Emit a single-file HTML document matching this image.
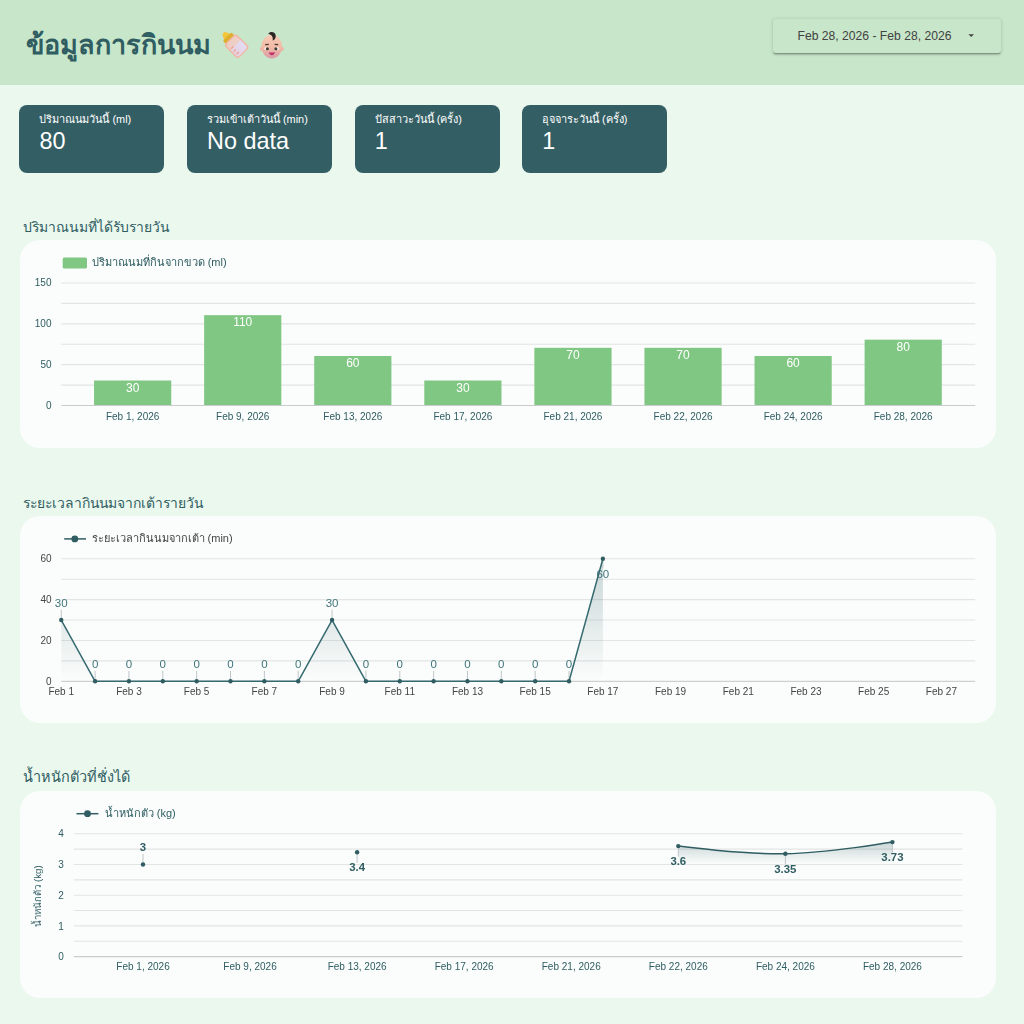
<!DOCTYPE html>
<html lang="th">
<head>
<meta charset="utf-8">
<title>ข้อมูลการกินนม</title>
<style>
  html, body { margin: 0; padding: 0; }
  body {
    width: 1024px; height: 1024px; overflow: hidden; position: relative;
    background: #ebf8ee;
    font-family: "Liberation Sans", sans-serif;
    color: #2f5d62;
  }
  #root { position: absolute; left: 0; top: 0; width: 1024px; height: 1024px; }
  .abs { position: absolute; white-space: nowrap; }
  #header { left: 0; top: 0; width: 1024px; height: 85px; background: #c8e6c9; }
  #title { left: 25.8px; top: 25.4px; font-size: 27px; font-weight: bold; line-height: 40px; color: #2f5d62; }
  #datebtn {
    left: 773px; top: 19px; width: 228px; height: 33.5px; border-radius: 3px;
    background: #c8e6c9;
    box-shadow: 0 2.5px .9px -1.7px rgba(0,0,0,.2), 0 1.7px 1.7px 0 rgba(0,0,0,.14), 0 .9px 4.3px 0 rgba(0,0,0,.12);
  }
  #datetxt { left: 797.5px; top: 28.8px; font-size: 12.15px; line-height: 15px; color: #424242; }
  .card { top: 105.3px; width: 145.1px; height: 67.3px; border-radius: 8px; background: #335e64; color: #fff; }
  .card .lab { left: 20.1px; top: 6.2px; font-size: 10.95px; line-height: 16px; }
  .card .val { left: 20.3px; top: 21.4px; font-size: 23.4px; line-height: 28px; }
  .h2 { left: 23.2px; font-size: 13.95px; line-height: 22px; color: #2f5d62; }
  .panel { left: 19.5px; width: 976.5px; height: 207px; border-radius: 20px; background: #fbfdfc; }
  svg text { font-family: "Liberation Sans", sans-serif; }
</style>
</head>
<body>
<div id="root">
  <div id="header" class="abs"></div>
  <div id="title" class="abs">ข้อมูลการกินนม</div>
  <svg class="abs" style="left:216px;top:24px" width="80" height="40" viewBox="216 24 80 40">
    <defs>
      <linearGradient id="skin" x1="0" y1="0" x2="0" y2="1">
        <stop offset="0" stop-color="#f8cdb6"/><stop offset="0.55" stop-color="#f0b9a6"/><stop offset="1" stop-color="#d899a6"/>
      </linearGradient>
      <linearGradient id="milk" x1="0" y1="0" x2="1" y2="0">
        <stop offset="0" stop-color="#e6cfe0"/><stop offset="1" stop-color="#e2ddf3"/>
      </linearGradient>
    </defs>
    <!-- baby bottle -->
    <g transform="translate(236.7 46.2) rotate(-45) scale(1.08)">
      <path d="M-3.6 -12.2 C-3.6 -14.6 -2.4 -15.2 -2 -16.4 C-1.8 -17.8 1.8 -17.8 2 -16.4 C2.4 -15.2 3.6 -14.6 3.6 -12.2 Z" fill="#f2c53d"/>
      <rect x="-5.6" y="-12.6" width="11.2" height="3.9" rx="1.2" fill="#dfae2f"/>
      <rect x="-7.8" y="-9.2" width="15.6" height="18.4" rx="3.2" fill="#f1b6a6"/>
      <rect x="-6.4" y="-7.9" width="12.8" height="15.8" rx="2.2" fill="#efcfc3"/>
      <path d="M-6.4 -1.6 L6.4 -1.6 L6.4 5.7 Q6.4 7.9 4.2 7.9 L-4.2 7.9 Q-6.4 7.9 -6.4 5.7 Z" fill="url(#milk)"/>
      <rect x="-5.4" y="-2.6" width="3.2" height="1.1" rx=".5" fill="#ee9f86"/>
      <rect x="-5.4" y="1.1" width="2.6" height="1.1" rx=".5" fill="#ee9f86"/>
      <rect x="-5.4" y="4.6" width="3.2" height="1.1" rx=".5" fill="#ee9f86"/>
    </g>
    <!-- baby face -->
    <circle cx="262.2" cy="48.9" r="2.2" fill="#efb5a2"/>
    <circle cx="281.5" cy="48.9" r="2.2" fill="#efb5a2"/>
    <ellipse cx="271.8" cy="46.6" rx="10.3" ry="11.9" fill="url(#skin)"/>
    <path d="M268.2 33.8 C270 31.2 274.2 31.4 275.4 34.4 C276.4 37 275 39.6 272.7 40.6 C273 38.2 272.6 36 270.9 35 C270 34.5 269 34.3 268.2 33.8 Z" fill="#2a2624"/>
    <ellipse cx="266.2" cy="48.4" rx="2.1" ry="1.5" fill="#f6ebe6"/>
    <ellipse cx="277.2" cy="48.4" rx="2.1" ry="1.5" fill="#f6ebe6"/>
    <circle cx="267.4" cy="48.8" r="1.5" fill="#3b3a33"/>
    <circle cx="275.9" cy="48.8" r="1.5" fill="#3b3a33"/>
    <path d="M265.6 44.6 L268.4 44.4" stroke="#4a3b33" stroke-width="1.1" stroke-linecap="round" fill="none"/>
    <path d="M275 44.4 L277.8 44.6" stroke="#4a3b33" stroke-width="1.1" stroke-linecap="round" fill="none"/>
    <path d="M268.9 52 Q271.9 53.2 274.9 52 Q274.2 55.2 271.9 55.2 Q269.6 55.2 268.9 52 Z" fill="#c22f69"/>
  </svg>

  <div id="datebtn" class="abs"></div>
  <div id="datetxt" class="abs">Feb 28, 2026 - Feb 28, 2026</div>
  <svg class="abs" style="left:967px;top:32.5px" width="9" height="6" viewBox="0 0 9 6"><path d="M1.4 1.2 L7 1.2 L4.2 4 Z" fill="#424242"/></svg>

  <div class="abs card" style="left:19.3px"><div class="abs lab">ปริมาณนมวันนี้ (ml)</div><div class="abs val">80</div></div>
  <div class="abs card" style="left:186.8px"><div class="abs lab">รวมเข้าเต้าวันนี้ (min)</div><div class="abs val">No data</div></div>
  <div class="abs card" style="left:354.5px"><div class="abs lab">ปัสสาวะวันนี้ (ครั้ง)</div><div class="abs val">1</div></div>
  <div class="abs card" style="left:521.9px"><div class="abs lab">อุจจาระวันนี้ (ครั้ง)</div><div class="abs val">1</div></div>

  <div class="abs h2" style="top:215.7px">ปริมาณนมที่ได้รับรายวัน</div>
  <div class="abs panel" style="top:240.3px;height:207.3px"></div>

  <div class="abs h2" style="top:491.8px;font-size:13.9px">ระยะเวลากินนมจากเต้ารายวัน</div>
  <div class="abs panel" style="top:516.1px;height:206.8px"></div>

  <div class="abs h2" style="top:765.8px;font-size:14.45px">น้ำหนักตัวที่ชั่งได้</div>
  <div class="abs panel" style="top:791.2px;height:206.6px"></div>

  <svg class="abs" style="left:0;top:0;will-change:transform" width="1024" height="1024" viewBox="0 0 1024 1024">
<g id="chart-bar">
<line x1="61.25" x2="975.25" y1="283" y2="283" stroke="#e3e5e5" stroke-width="1.1"/>
<line x1="61.25" x2="975.25" y1="303.42" y2="303.42" stroke="#e3e5e5" stroke-width="1.1"/>
<line x1="61.25" x2="975.25" y1="323.83" y2="323.83" stroke="#e3e5e5" stroke-width="1.1"/>
<line x1="61.25" x2="975.25" y1="344.25" y2="344.25" stroke="#e3e5e5" stroke-width="1.1"/>
<line x1="61.25" x2="975.25" y1="364.67" y2="364.67" stroke="#e3e5e5" stroke-width="1.1"/>
<line x1="61.25" x2="975.25" y1="385.08" y2="385.08" stroke="#e3e5e5" stroke-width="1.1"/>
<text x="51.5" y="286.2" text-anchor="end" font-size="10" fill="#2f5d62">150</text>
<text x="51.5" y="327.03" text-anchor="end" font-size="10" fill="#2f5d62">100</text>
<text x="51.5" y="367.87" text-anchor="end" font-size="10" fill="#2f5d62">50</text>
<text x="51.5" y="408.7" text-anchor="end" font-size="10" fill="#2f5d62">0</text>
<rect x="94.05" y="380.5" width="77.2" height="25" fill="#81c784"/>
<text x="132.65" y="391.6" text-anchor="middle" font-size="12" fill="#ffffff">30</text>
<text x="132.65" y="419.6" text-anchor="middle" font-size="10" fill="#2f5d62">Feb 1, 2026</text>
<rect x="204.13" y="315.17" width="77.2" height="90.33" fill="#81c784"/>
<text x="242.73" y="326.27" text-anchor="middle" font-size="12" fill="#ffffff">110</text>
<text x="242.73" y="419.6" text-anchor="middle" font-size="10" fill="#2f5d62">Feb 9, 2026</text>
<rect x="314.21" y="356" width="77.2" height="49.5" fill="#81c784"/>
<text x="352.81" y="367.1" text-anchor="middle" font-size="12" fill="#ffffff">60</text>
<text x="352.81" y="419.6" text-anchor="middle" font-size="10" fill="#2f5d62">Feb 13, 2026</text>
<rect x="424.29" y="380.5" width="77.2" height="25" fill="#81c784"/>
<text x="462.89" y="391.6" text-anchor="middle" font-size="12" fill="#ffffff">30</text>
<text x="462.89" y="419.6" text-anchor="middle" font-size="10" fill="#2f5d62">Feb 17, 2026</text>
<rect x="534.37" y="347.83" width="77.2" height="57.67" fill="#81c784"/>
<text x="572.97" y="358.93" text-anchor="middle" font-size="12" fill="#ffffff">70</text>
<text x="572.97" y="419.6" text-anchor="middle" font-size="10" fill="#2f5d62">Feb 21, 2026</text>
<rect x="644.45" y="347.83" width="77.2" height="57.67" fill="#81c784"/>
<text x="683.05" y="358.93" text-anchor="middle" font-size="12" fill="#ffffff">70</text>
<text x="683.05" y="419.6" text-anchor="middle" font-size="10" fill="#2f5d62">Feb 22, 2026</text>
<rect x="754.53" y="356" width="77.2" height="49.5" fill="#81c784"/>
<text x="793.13" y="367.1" text-anchor="middle" font-size="12" fill="#ffffff">60</text>
<text x="793.13" y="419.6" text-anchor="middle" font-size="10" fill="#2f5d62">Feb 24, 2026</text>
<rect x="864.61" y="339.67" width="77.2" height="65.83" fill="#81c784"/>
<text x="903.21" y="350.77" text-anchor="middle" font-size="12" fill="#ffffff">80</text>
<text x="903.21" y="419.6" text-anchor="middle" font-size="10" fill="#2f5d62">Feb 28, 2026</text>
<line x1="61.25" x2="975.25" y1="405.5" y2="405.5" stroke="#c9cccc" stroke-width="1.2"/>
<rect x="62.7" y="257.4" width="24.3" height="11.2" rx="1.5" fill="#81c784"/>
<text x="91.6" y="266.1" font-size="11" fill="#2f5d62">ปริมาณนมที่กินจากขวด (ml)</text>
</g>
<g id="chart-line">
<defs><linearGradient id="g2" gradientUnits="userSpaceOnUse" x1="0" y1="558.8" x2="0" y2="681.3"><stop offset="0" stop-color="#2f5d62" stop-opacity="0.25"/><stop offset="1" stop-color="#2f5d62" stop-opacity="0"/></linearGradient></defs>
<line x1="61.25" x2="975.25" y1="558.8" y2="558.8" stroke="#e3e5e5" stroke-width="1.1"/>
<line x1="61.25" x2="975.25" y1="579.22" y2="579.22" stroke="#e3e5e5" stroke-width="1.1"/>
<line x1="61.25" x2="975.25" y1="599.63" y2="599.63" stroke="#e3e5e5" stroke-width="1.1"/>
<line x1="61.25" x2="975.25" y1="620.05" y2="620.05" stroke="#e3e5e5" stroke-width="1.1"/>
<line x1="61.25" x2="975.25" y1="640.47" y2="640.47" stroke="#e3e5e5" stroke-width="1.1"/>
<line x1="61.25" x2="975.25" y1="660.88" y2="660.88" stroke="#e3e5e5" stroke-width="1.1"/>
<line x1="61.25" x2="975.25" y1="681.3" y2="681.3" stroke="#cdd0d0" stroke-width="1.2"/>
<text x="51.5" y="562.1" text-anchor="end" font-size="10" fill="#444444">60</text>
<text x="51.5" y="602.93" text-anchor="end" font-size="10" fill="#444444">40</text>
<text x="51.5" y="643.77" text-anchor="end" font-size="10" fill="#444444">20</text>
<text x="51.5" y="684.6" text-anchor="end" font-size="10" fill="#444444">0</text>
<text x="61.25" y="695.2" text-anchor="middle" font-size="10" fill="#444444">Feb 1</text>
<text x="128.95" y="695.2" text-anchor="middle" font-size="10" fill="#444444">Feb 3</text>
<text x="196.66" y="695.2" text-anchor="middle" font-size="10" fill="#444444">Feb 5</text>
<text x="264.36" y="695.2" text-anchor="middle" font-size="10" fill="#444444">Feb 7</text>
<text x="332.06" y="695.2" text-anchor="middle" font-size="10" fill="#444444">Feb 9</text>
<text x="399.77" y="695.2" text-anchor="middle" font-size="10" fill="#444444">Feb 11</text>
<text x="467.47" y="695.2" text-anchor="middle" font-size="10" fill="#444444">Feb 13</text>
<text x="535.18" y="695.2" text-anchor="middle" font-size="10" fill="#444444">Feb 15</text>
<text x="602.88" y="695.2" text-anchor="middle" font-size="10" fill="#444444">Feb 17</text>
<text x="670.58" y="695.2" text-anchor="middle" font-size="10" fill="#444444">Feb 19</text>
<text x="738.29" y="695.2" text-anchor="middle" font-size="10" fill="#444444">Feb 21</text>
<text x="805.99" y="695.2" text-anchor="middle" font-size="10" fill="#444444">Feb 23</text>
<text x="873.69" y="695.2" text-anchor="middle" font-size="10" fill="#444444">Feb 25</text>
<text x="941.4" y="695.2" text-anchor="middle" font-size="10" fill="#444444">Feb 27</text>
<path d="M61.25 620.05 L95.1 681.3 L128.95 681.3 L162.81 681.3 L196.66 681.3 L230.51 681.3 L264.36 681.3 L298.21 681.3 L332.06 620.05 L365.92 681.3 L399.77 681.3 L433.62 681.3 L467.47 681.3 L501.32 681.3 L535.18 681.3 L569.03 681.3 L602.88 558.8 L602.88 681.3 L61.25 681.3 Z" fill="url(#g2)"/>
<line x1="61.25" x2="61.25" y1="609.55" y2="620.05" stroke="#bfc5c6" stroke-width="1"/>
<text x="61.25" y="606.95" text-anchor="middle" font-size="11.5" fill="#3f747a">30</text>
<line x1="95.1" x2="95.1" y1="670.8" y2="681.3" stroke="#bfc5c6" stroke-width="1"/>
<text x="95.1" y="668.2" text-anchor="middle" font-size="11.5" fill="#3f747a">0</text>
<line x1="128.95" x2="128.95" y1="670.8" y2="681.3" stroke="#bfc5c6" stroke-width="1"/>
<text x="128.95" y="668.2" text-anchor="middle" font-size="11.5" fill="#3f747a">0</text>
<line x1="162.81" x2="162.81" y1="670.8" y2="681.3" stroke="#bfc5c6" stroke-width="1"/>
<text x="162.81" y="668.2" text-anchor="middle" font-size="11.5" fill="#3f747a">0</text>
<line x1="196.66" x2="196.66" y1="670.8" y2="681.3" stroke="#bfc5c6" stroke-width="1"/>
<text x="196.66" y="668.2" text-anchor="middle" font-size="11.5" fill="#3f747a">0</text>
<line x1="230.51" x2="230.51" y1="670.8" y2="681.3" stroke="#bfc5c6" stroke-width="1"/>
<text x="230.51" y="668.2" text-anchor="middle" font-size="11.5" fill="#3f747a">0</text>
<line x1="264.36" x2="264.36" y1="670.8" y2="681.3" stroke="#bfc5c6" stroke-width="1"/>
<text x="264.36" y="668.2" text-anchor="middle" font-size="11.5" fill="#3f747a">0</text>
<line x1="298.21" x2="298.21" y1="670.8" y2="681.3" stroke="#bfc5c6" stroke-width="1"/>
<text x="298.21" y="668.2" text-anchor="middle" font-size="11.5" fill="#3f747a">0</text>
<line x1="332.06" x2="332.06" y1="609.55" y2="620.05" stroke="#bfc5c6" stroke-width="1"/>
<text x="332.06" y="606.95" text-anchor="middle" font-size="11.5" fill="#3f747a">30</text>
<line x1="365.92" x2="365.92" y1="670.8" y2="681.3" stroke="#bfc5c6" stroke-width="1"/>
<text x="365.92" y="668.2" text-anchor="middle" font-size="11.5" fill="#3f747a">0</text>
<line x1="399.77" x2="399.77" y1="670.8" y2="681.3" stroke="#bfc5c6" stroke-width="1"/>
<text x="399.77" y="668.2" text-anchor="middle" font-size="11.5" fill="#3f747a">0</text>
<line x1="433.62" x2="433.62" y1="670.8" y2="681.3" stroke="#bfc5c6" stroke-width="1"/>
<text x="433.62" y="668.2" text-anchor="middle" font-size="11.5" fill="#3f747a">0</text>
<line x1="467.47" x2="467.47" y1="670.8" y2="681.3" stroke="#bfc5c6" stroke-width="1"/>
<text x="467.47" y="668.2" text-anchor="middle" font-size="11.5" fill="#3f747a">0</text>
<line x1="501.32" x2="501.32" y1="670.8" y2="681.3" stroke="#bfc5c6" stroke-width="1"/>
<text x="501.32" y="668.2" text-anchor="middle" font-size="11.5" fill="#3f747a">0</text>
<line x1="535.18" x2="535.18" y1="670.8" y2="681.3" stroke="#bfc5c6" stroke-width="1"/>
<text x="535.18" y="668.2" text-anchor="middle" font-size="11.5" fill="#3f747a">0</text>
<line x1="569.03" x2="569.03" y1="670.8" y2="681.3" stroke="#bfc5c6" stroke-width="1"/>
<text x="569.03" y="668.2" text-anchor="middle" font-size="11.5" fill="#3f747a">0</text>
<line x1="602.88" x2="602.88" y1="558.8" y2="567.8" stroke="#bfc5c6" stroke-width="1"/>
<text x="602.88" y="578" text-anchor="middle" font-size="11.5" fill="#3f747a">60</text>
<path d="M61.25 620.05 L95.1 681.3 L128.95 681.3 L162.81 681.3 L196.66 681.3 L230.51 681.3 L264.36 681.3 L298.21 681.3 L332.06 620.05 L365.92 681.3 L399.77 681.3 L433.62 681.3 L467.47 681.3 L501.32 681.3 L535.18 681.3 L569.03 681.3 L602.88 558.8" fill="none" stroke="#356a70" stroke-width="1.5" stroke-linejoin="round"/>
<circle cx="61.25" cy="620.05" r="2.2" fill="#2f5d62"/>
<circle cx="95.1" cy="681.3" r="2.2" fill="#2f5d62"/>
<circle cx="128.95" cy="681.3" r="2.2" fill="#2f5d62"/>
<circle cx="162.81" cy="681.3" r="2.2" fill="#2f5d62"/>
<circle cx="196.66" cy="681.3" r="2.2" fill="#2f5d62"/>
<circle cx="230.51" cy="681.3" r="2.2" fill="#2f5d62"/>
<circle cx="264.36" cy="681.3" r="2.2" fill="#2f5d62"/>
<circle cx="298.21" cy="681.3" r="2.2" fill="#2f5d62"/>
<circle cx="332.06" cy="620.05" r="2.2" fill="#2f5d62"/>
<circle cx="365.92" cy="681.3" r="2.2" fill="#2f5d62"/>
<circle cx="399.77" cy="681.3" r="2.2" fill="#2f5d62"/>
<circle cx="433.62" cy="681.3" r="2.2" fill="#2f5d62"/>
<circle cx="467.47" cy="681.3" r="2.2" fill="#2f5d62"/>
<circle cx="501.32" cy="681.3" r="2.2" fill="#2f5d62"/>
<circle cx="535.18" cy="681.3" r="2.2" fill="#2f5d62"/>
<circle cx="569.03" cy="681.3" r="2.2" fill="#2f5d62"/>
<circle cx="602.88" cy="558.8" r="2.2" fill="#2f5d62"/>
<line x1="64.2" x2="86" y1="538.9" y2="538.9" stroke="#2f5d62" stroke-width="1.5"/><circle cx="74.8" cy="538.9" r="3.4" fill="#2f5d62"/>
<text x="91.5" y="542.3" font-size="11" fill="#444444">ระยะเวลากินนมจากเต้า (min)</text>
</g>
<g id="chart-weight">
<defs><linearGradient id="g3" gradientUnits="userSpaceOnUse" x1="0" y1="841" x2="0" y2="864.5"><stop offset="0" stop-color="#2f5d62" stop-opacity="0.25"/><stop offset="1" stop-color="#2f5d62" stop-opacity="0"/></linearGradient></defs>
<line x1="73.9" x2="962.4" y1="941.25" y2="941.25" stroke="#e3e5e5" stroke-width="1.1"/>
<line x1="73.9" x2="962.4" y1="925.9" y2="925.9" stroke="#e3e5e5" stroke-width="1.1"/>
<line x1="73.9" x2="962.4" y1="910.55" y2="910.55" stroke="#e3e5e5" stroke-width="1.1"/>
<line x1="73.9" x2="962.4" y1="895.2" y2="895.2" stroke="#e3e5e5" stroke-width="1.1"/>
<line x1="73.9" x2="962.4" y1="879.85" y2="879.85" stroke="#e3e5e5" stroke-width="1.1"/>
<line x1="73.9" x2="962.4" y1="864.5" y2="864.5" stroke="#e3e5e5" stroke-width="1.1"/>
<line x1="73.9" x2="962.4" y1="849.15" y2="849.15" stroke="#e3e5e5" stroke-width="1.1"/>
<line x1="73.9" x2="962.4" y1="833.8" y2="833.8" stroke="#e3e5e5" stroke-width="1.1"/>
<line x1="73.9" x2="962.4" y1="956.6" y2="956.6" stroke="#c9cccc" stroke-width="1.2"/>
<text x="63.7" y="837.4" text-anchor="end" font-size="10" fill="#2f5d62">4</text>
<text x="63.7" y="868.1" text-anchor="end" font-size="10" fill="#2f5d62">3</text>
<text x="63.7" y="898.8" text-anchor="end" font-size="10" fill="#2f5d62">2</text>
<text x="63.7" y="929.5" text-anchor="end" font-size="10" fill="#2f5d62">1</text>
<text x="63.7" y="960.2" text-anchor="end" font-size="10" fill="#2f5d62">0</text>
<text x="143" y="970.4" text-anchor="middle" font-size="10" fill="#2f5d62">Feb 1, 2026</text>
<text x="250.06" y="970.4" text-anchor="middle" font-size="10" fill="#2f5d62">Feb 9, 2026</text>
<text x="357.12" y="970.4" text-anchor="middle" font-size="10" fill="#2f5d62">Feb 13, 2026</text>
<text x="464.18" y="970.4" text-anchor="middle" font-size="10" fill="#2f5d62">Feb 17, 2026</text>
<text x="571.24" y="970.4" text-anchor="middle" font-size="10" fill="#2f5d62">Feb 21, 2026</text>
<text x="678.3" y="970.4" text-anchor="middle" font-size="10" fill="#2f5d62">Feb 22, 2026</text>
<text x="785.36" y="970.4" text-anchor="middle" font-size="10" fill="#2f5d62">Feb 24, 2026</text>
<text x="892.42" y="970.4" text-anchor="middle" font-size="10" fill="#2f5d62">Feb 28, 2026</text>
<path d="M678.3 846.08 C678.3 846.08 742.61 854.55 785.36 853.75 C828.26 852.96 892.42 842.09 892.42 842.09 L892.42 864.5 L678.3 864.5 Z" fill="url(#g3)"/>
<line x1="143" x2="143" y1="854" y2="864.5" stroke="#bfc5c6" stroke-width="1"/>
<text x="143" y="851.2" text-anchor="middle" font-size="11.4" font-weight="bold" fill="#2f5d62">3</text>
<line x1="357.12" x2="357.12" y1="852.22" y2="862.72" stroke="#bfc5c6" stroke-width="1"/>
<text x="357.12" y="871.42" text-anchor="middle" font-size="11.4" font-weight="bold" fill="#2f5d62">3.4</text>
<line x1="678.3" x2="678.3" y1="846.08" y2="856.58" stroke="#bfc5c6" stroke-width="1"/>
<text x="678.3" y="865.28" text-anchor="middle" font-size="11.4" font-weight="bold" fill="#2f5d62">3.6</text>
<line x1="785.36" x2="785.36" y1="853.75" y2="864.25" stroke="#bfc5c6" stroke-width="1"/>
<text x="785.36" y="872.96" text-anchor="middle" font-size="11.4" font-weight="bold" fill="#2f5d62">3.35</text>
<line x1="892.42" x2="892.42" y1="842.09" y2="852.59" stroke="#bfc5c6" stroke-width="1"/>
<text x="892.42" y="861.29" text-anchor="middle" font-size="11.4" font-weight="bold" fill="#2f5d62">3.73</text>
<path d="M678.3 846.08 C678.3 846.08 742.61 854.55 785.36 853.75 C828.26 852.96 892.42 842.09 892.42 842.09" fill="none" stroke="#2f5d62" stroke-width="1.5"/>
<circle cx="143" cy="864.5" r="2.2" fill="#2f5d62"/>
<circle cx="357.12" cy="852.22" r="2.2" fill="#2f5d62"/>
<circle cx="678.3" cy="846.08" r="2.2" fill="#2f5d62"/>
<circle cx="785.36" cy="853.75" r="2.2" fill="#2f5d62"/>
<circle cx="892.42" cy="842.09" r="2.2" fill="#2f5d62"/>
<line x1="76.5" x2="98.4" y1="813.7" y2="813.7" stroke="#2f5d62" stroke-width="1.5"/><circle cx="87.5" cy="813.7" r="3.4" fill="#2f5d62"/>
<text x="104.7" y="817.3" font-size="11" fill="#2f5d62">น้ำหนักตัว (kg)</text>
<text transform="translate(41 896) rotate(-90)" text-anchor="middle" font-size="9.7" fill="#2f5d62">น้ำหนักตัว (kg)</text>
</g>
  </svg>
</div>
</body>
</html>
